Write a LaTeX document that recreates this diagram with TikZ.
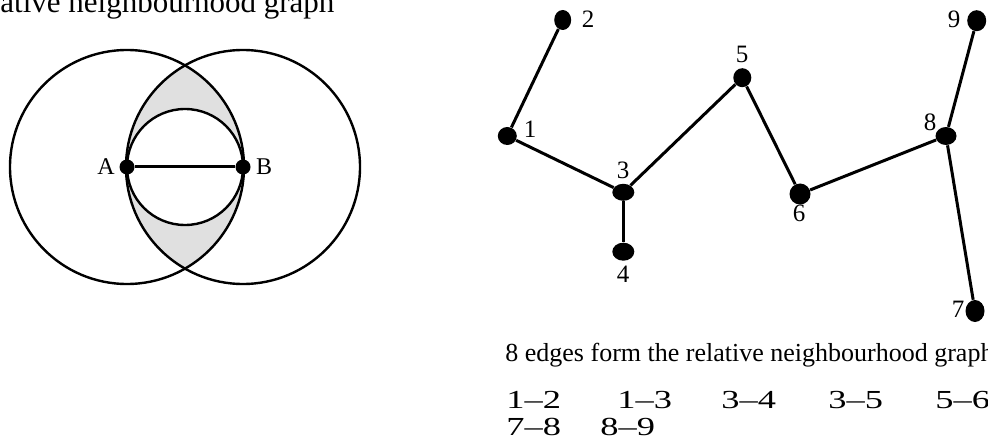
\documentclass[tikz,border=0pt]{standalone}
\usepackage{fontspec}
\setmainfont{Liberation Serif}
\usetikzlibrary{shapes.geometric}
\definecolor{lensgray}{gray}{0.88}
\begin{document}
\begin{tikzpicture}[x=0.5pt,y=-0.5pt,
  dot/.style={ellipse,fill=black,inner sep=0pt},
  edge/.style={line width=1.5pt},
  ring/.style={line width=1.2pt},
  lbl/.style={inner sep=0pt,font=\fontsize{12.5}{14}\selectfont},
  pair/.style={anchor=base west,inner sep=0pt}]
\useasboundingbox (0,0) rectangle (988,443);
\clip (0,0) rectangle (988,443);
% title
\node[anchor=base west,inner sep=0pt] (title) at (0,13)
  {\fontsize{15.5}{18}\selectfont ative neighbourhood graph};
% left construction
\coordinate (A) at (127,167);
\coordinate (B) at (243,167);
\coordinate (M) at (185,167);
\begin{scope}
  \clip (A) circle (117);
  \fill[lensgray] (B) circle (117);
\end{scope}
\fill[white] (M) circle (58);
\draw[ring] (A) circle (117);
\draw[ring] (B) circle (117);
\draw[ring] (M) circle (58);
\node[dot,minimum width=7.5pt,minimum height=7.5pt] (nA) at (A) {};
\node[dot,minimum width=7.5pt,minimum height=7.5pt] (nB) at (B) {};
\draw[edge] (nA) -- (nB);
\node[lbl,font=\fontsize{12}{14}\selectfont] (lA) at (106,167) {A};
\node[lbl,font=\fontsize{12}{14}\selectfont] (lB) at (264,167) {B};
% graph
\node[dot,minimum width=8.5pt,minimum height=10pt] (n2) at (562.7,20) {};
\node[dot,minimum width=9.5pt,minimum height=10.5pt] (n9) at (976.7,20.7) {};
\node[dot,minimum width=9pt,minimum height=9.5pt] (n5) at (742.3,77.7) {};
\node[dot,minimum width=9.5pt,minimum height=9pt] (n1) at (507.3,136) {};
\node[dot,minimum width=11pt,minimum height=8.5pt] (n3) at (623.3,192.3) {};
\node[dot,minimum width=11pt,minimum height=9pt] (n4) at (623.3,251.7) {};
\node[dot,minimum width=10.5pt,minimum height=10.5pt] (n6) at (800,194) {};
\node[dot,minimum width=10.5pt,minimum height=9pt] (n8) at (946,136) {};
\node[dot,minimum width=9.5pt,minimum height=11pt] (n7) at (975,311) {};
\draw[edge] (n1) -- (n2);
\draw[edge] (n1) -- (n3);
\draw[edge] (n3) -- (n4);
\draw[edge] (n3) -- (n5);
\draw[edge] (n5) -- (n6);
\draw[edge] (n6) -- (n8);
\draw[edge] (n8) -- (n7);
\draw[edge] (n8) -- (n9);
\node[lbl] (l2) at (588,19) {2};
\node[lbl] (l9) at (954,19) {9};
\node[lbl] (l5) at (742,54) {5};
\node[lbl] (l1) at (530,129) {1};
\node[lbl] (l3) at (623,170) {3};
\node[lbl] (l4) at (623,274) {4};
\node[lbl] (l6) at (799,213) {6};
\node[lbl] (l8) at (930,122) {8};
\node[lbl] (l7) at (958,309) {7};
% caption
\node[anchor=base west,inner sep=0pt] (cap) at (505,361)
  {\fontsize{13}{15}\selectfont 8 edges form the relative neighbourhood graph};
\node[pair] (e12) at (506,408) {\scalebox{1.4}[1]{\fontsize{13}{15}\selectfont 1--2}};
\node[pair] (e13) at (617,408) {\scalebox{1.4}[1]{\fontsize{13}{15}\selectfont 1--3}};
\node[pair] (e34) at (721,408) {\scalebox{1.4}[1]{\fontsize{13}{15}\selectfont 3--4}};
\node[pair] (e35) at (828,408) {\scalebox{1.4}[1]{\fontsize{13}{15}\selectfont 3--5}};
\node[pair] (e56) at (935,408) {\scalebox{1.4}[1]{\fontsize{13}{15}\selectfont 5--6}};
\node[pair] (e78) at (506,435) {\scalebox{1.4}[1]{\fontsize{13}{15}\selectfont 7--8}};
\node[pair] (e89) at (600,435) {\scalebox{1.4}[1]{\fontsize{13}{15}\selectfont 8--9}};
\end{tikzpicture}
\end{document}
